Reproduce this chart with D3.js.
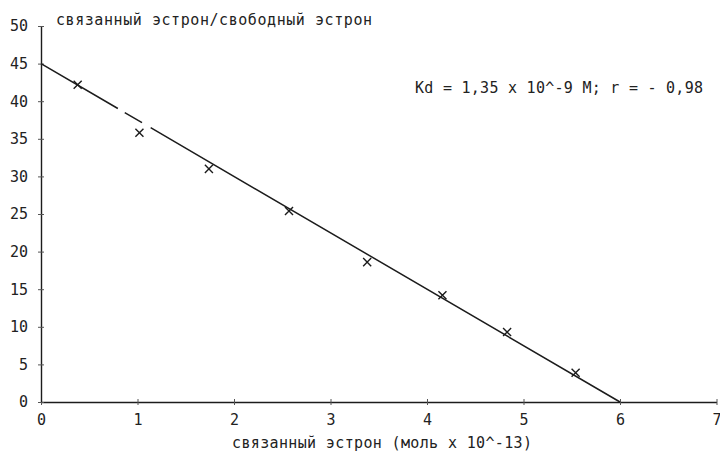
<!DOCTYPE html>
<html>
<head>
<meta charset="utf-8">
<script src="https://cdn.jsdelivr.net/npm/d3@7"></script>
<style>
  body { margin: 0; background: #fff; }
  text { font-family: "DejaVu Sans Mono", "Liberation Mono", monospace; fill: #222; }
</style>
</head>
<body>
<div id="chart"></div>
<script>
// bound estrone (x, mol x 10^-13) vs bound/free ratio (y)
var boundX = [0.38, 1.02, 1.74, 2.57, 3.38, 4.16, 4.83, 5.54];
var ratioY = [42.2, 35.8, 31.0, 25.4, 18.6, 14.2, 9.3, 3.9];
// regression line end points
var fitX = [0, 6];
var fitY = [45, 0];
var xTicks = [0, 1, 2, 3, 4, 5, 6, 7];
var yTicks = [0, 5, 10, 15, 20, 25, 30, 35, 40, 45, 50];
var titleY = "связанный эстрон/свободный эстрон";
var titleX = "связанный эстрон (моль x 10^-13)";
var note = "Kd = 1,35 x 10^-9 M; r = - 0,98";

var w = 720, h = 462;
var ink = "#1c1c1c";

var svg = d3.select("#chart").append("svg")
    .attr("width", w)
    .attr("height", h);

var x = d3.scaleLinear().domain([0, 7]).range([41, 716.5]);
var y = d3.scaleLinear().domain([0, 50]).range([402, 26]);

// axes
var gx = svg.append("g")
    .attr("transform", "translate(0," + y(0) + ")")
    .call(d3.axisBottom(x).tickValues(xTicks).tickFormat(d3.format("d"))
        .tickSize(3).tickSizeOuter(0).tickPadding(9));
gx.selectAll(".tick line").attr("y1", -3);

var gy = svg.append("g")
    .attr("transform", "translate(" + x(0) + ",0)")
    .call(d3.axisLeft(y).tickValues(yTicks).tickFormat(d3.format("d"))
        .tickSize(3).tickSizeOuter(0).tickPadding(10));
gy.selectAll(".tick line").attr("x1", 3);

svg.selectAll(".domain").attr("stroke", ink).attr("stroke-width", 1.4);
svg.selectAll(".tick line").attr("stroke", "#555").attr("stroke-width", 1);
svg.selectAll(".tick text")
    .attr("font-size", 15)
    .attr("font-family", "DejaVu Sans Mono, monospace")
    .attr("fill", "#222");

// regression line (with the small breaks seen in the original)
var fit = fitX.map(function(d, i) { return [d, fitY[i]]; });
svg.append("path")
    .datum(fit)
    .attr("d", d3.line().x(function(d) { return x(d[0]); }).y(function(d) { return y(d[1]); }))
    .attr("fill", "none")
    .attr("stroke", ink)
    .attr("stroke-width", 1.5)
    .attr("stroke-dasharray", "89,8,20,10,2000");

// data points
var pts = boundX.map(function(d, i) { return {x: d, y: ratioY[i]}; });
svg.append("g")
    .selectAll("path")
    .data(pts)
    .enter()
    .append("path")
    .attr("transform", function(d) { return "translate(" + x(d.x) + "," + y(d.y) + ")"; })
    .attr("d", d3.symbol(d3.symbolTimes, 44))
    .attr("fill", "none")
    .attr("stroke", ink)
    .attr("stroke-width", 1.4);

// texts
svg.append("text")
    .attr("x", 56).attr("y", 25)
    .attr("font-size", 15)
    .attr("textLength", 316)
    .text(titleY);

svg.append("text")
    .attr("x", 415).attr("y", 93)
    .attr("font-size", 15)
    .attr("textLength", 288)
    .text(note);

svg.append("text")
    .attr("x", 232).attr("y", 448)
    .attr("font-size", 15)
    .attr("textLength", 300)
    .text(titleX);
</script>
</body>
</html>
